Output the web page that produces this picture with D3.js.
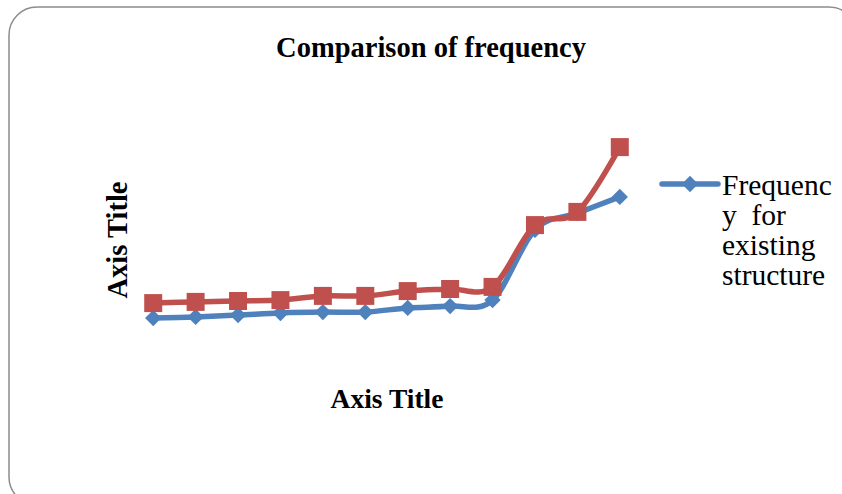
<!DOCTYPE html>
<html>
<head>
<meta charset="utf-8">
<script src="https://cdn.jsdelivr.net/npm/d3@7"></script>
<style>
  html, body { margin: 0; padding: 0; background: #fff; }
  svg { display: block; }
</style>
</head>
<body>
<svg id="chart" width="842" height="494"></svg>
<script>
// ---- data ----
const categories = ["1","2","3","4","5","6","7","8","9","10","11","12"];
const existingValues = [17.3, 17.7, 18.3, 19.0, 19.3, 19.3, 20.7, 21.3, 23.3, 46.7, 52.3, 57.7];
const proposedValues = [22.3, 22.7, 23.0, 23.3, 24.7, 24.7, 26.3, 27.0, 27.7, 48.3, 52.7, 74.3];
const chartTitle = "Comparison of frequency";
const xAxisTitle = "Axis Title";
const yAxisTitle = "Axis Title";
const legendLines = ["Frequenc", "y  for", "existing", "structure"];

const svg = d3.select("#chart");
const blue = "#4F81BD", red = "#C0504D";
const serif = "'Liberation Serif', 'Times New Roman', serif";

// outer rounded frame
svg.append("rect")
  .attr("x", 9).attr("y", 7).attr("width", 848).attr("height", 498)
  .attr("rx", 28).attr("ry", 28)
  .attr("fill", "#fff").attr("stroke", "#8c8c8c").attr("stroke-width", 1.5);

// scales
const x = d3.scalePoint().domain(categories).range([132, 641]).padding(0.5);
const y = d3.scaleLinear().domain([0, 100]).range([370, 70]);

const line = d3.line()
  .x((d, i) => x(categories[i]))
  .y(d => y(d))
  .curve(d3.curveCardinal.tension(0));

// series: existing (blue)
svg.append("path").datum(existingValues)
  .attr("d", line).attr("fill", "none")
  .attr("stroke", blue).attr("stroke-width", 5.5)
  .attr("stroke-linejoin", "round").attr("stroke-linecap", "round");
const diamond = d3.symbol().type(d3.symbolDiamond2).size(170);
svg.append("g").selectAll("path").data(existingValues).join("path")
  .attr("d", diamond)
  .attr("transform", (d, i) => `translate(${x(categories[i])},${y(d)})`)
  .attr("fill", blue);

// series: proposed (red)
svg.append("path").datum(proposedValues)
  .attr("d", line).attr("fill", "none")
  .attr("stroke", red).attr("stroke-width", 5.5)
  .attr("stroke-linejoin", "round").attr("stroke-linecap", "round");
svg.append("g").selectAll("rect").data(proposedValues).join("rect")
  .attr("x", (d, i) => x(categories[i]) - 9)
  .attr("y", d => y(d) - 9)
  .attr("width", 18).attr("height", 18)
  .attr("fill", red);

// titles
svg.append("text").text(chartTitle)
  .attr("x", 431).attr("y", 57).attr("text-anchor", "middle")
  .attr("font-family", serif).attr("font-weight", "bold").attr("font-size", 28.5)
  .attr("fill", "#000");
svg.append("text").text(xAxisTitle)
  .attr("x", 387).attr("y", 408).attr("text-anchor", "middle")
  .attr("font-family", serif).attr("font-weight", "bold").attr("font-size", 27.5)
  .attr("fill", "#000");
svg.append("text").text(yAxisTitle)
  .attr("transform", "translate(127,240) rotate(-90)").attr("text-anchor", "middle")
  .attr("font-family", serif).attr("font-weight", "bold").attr("font-size", 28.5)
  .attr("fill", "#000");

// legend
const lg = svg.append("g");
lg.append("line").attr("x1", 662).attr("x2", 718).attr("y1", 184).attr("y2", 184)
  .attr("stroke", blue).attr("stroke-width", 5.5).attr("stroke-linecap", "round");
lg.append("path").attr("d", diamond).attr("transform", "translate(690,184)").attr("fill", blue);
lg.append("text")
  .attr("font-family", serif).attr("font-size", 29.5).attr("fill", "#000")
  .style("white-space", "pre")
  .selectAll("tspan").data(legendLines).join("tspan")
  .attr("x", 722).attr("y", (d, i) => 195 + i * 30).text(d => d);
</script>
</body>
</html>
